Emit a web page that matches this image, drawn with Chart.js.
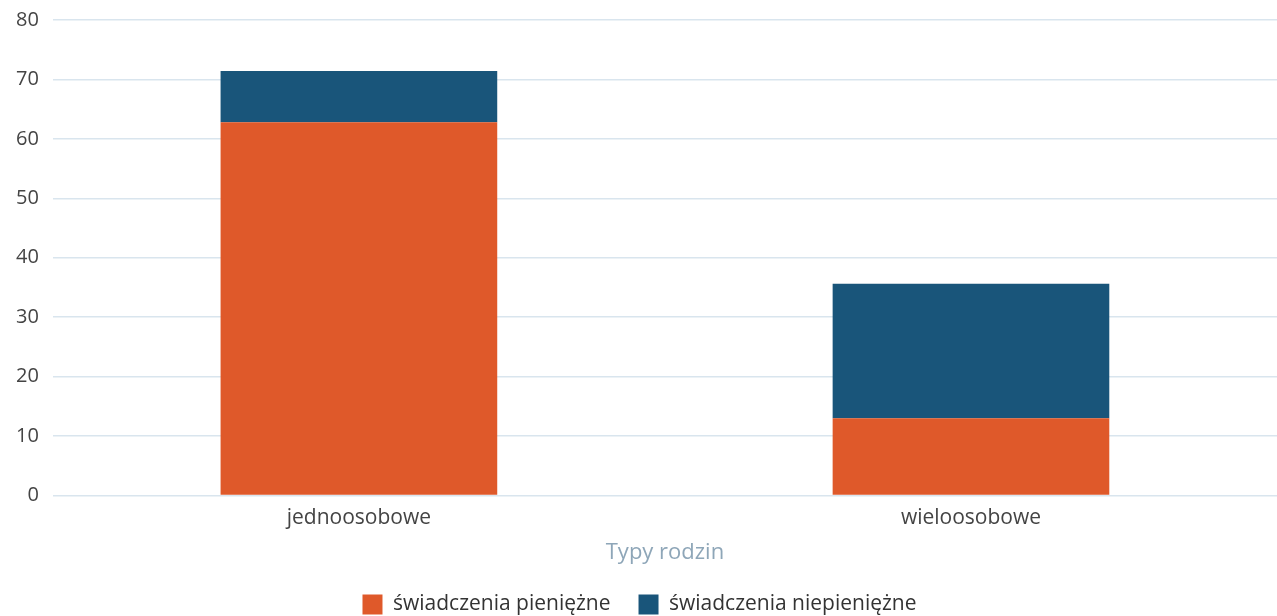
<!DOCTYPE html>
<html lang="pl">
<head>
    <meta charset="UTF-8">
    <title>Typy rodzin</title>
    <script src="https://cdn.jsdelivr.net/npm/chart.js@4.4.0/dist/chart.umd.min.js"></script>
    <style>
        html, body {
            margin: 0;
            padding: 0;
            background: #ffffff;
        }
        #wrap {
            width: 1277px;
            height: 616px;
        }
    </style>
</head>
<body>
    <div id="wrap"><canvas id="myChart"></canvas></div>

    <script>
        const categories = ['jednoosobowe', 'wieloosobowe'];
        const cashBenefits = [62.8, 13.0];
        const nonCashBenefits = [8.6, 22.6];
        const yTicks = [0, 10, 20, 30, 40, 50, 60, 70, 80];

        const ctx = document.getElementById('myChart').getContext('2d');
        const myChart = new Chart(ctx, {
            type: 'bar',
            data: {
                labels: categories,
                datasets: [
                    {
                        label: 'świadczenia pieniężne',
                        data: cashBenefits,
                        backgroundColor: '#df592a',
                        barPercentage: 0.452,
                        categoryPercentage: 1
                    },
                    {
                        label: 'świadczenia niepieniężne',
                        data: nonCashBenefits,
                        backgroundColor: '#19557a',
                        barPercentage: 0.452,
                        categoryPercentage: 1
                    }
                ]
            },
            options: {
                responsive: true,
                maintainAspectRatio: false,
                animation: false,
                layout: {
                    padding: { top: 0, left: 2, right: 0, bottom: 0 }
                },
                plugins: {
                    legend: {
                        position: 'bottom',
                        maxHeight: 50,
                        labels: {
                            boxWidth: 20,
                            boxHeight: 20,
                            padding: 28,
                            color: '#333333',
                            font: { family: 'Open Sans', size: 21 }
                        }
                    },
                    tooltip: { enabled: false }
                },
                scales: {
                    x: {
                        stacked: true,
                        grid: { display: false },
                        border: { display: false },
                        ticks: {
                            color: '#444444',
                            padding: 2,
                            font: { family: 'Open Sans', size: 21 }
                        },
                        title: {
                            display: true,
                            text: 'Typy rodzin',
                            color: '#8ea6b8',
                            padding: { top: 7, bottom: 0 },
                            font: { family: 'Open Sans', size: 22 }
                        }
                    },
                    y: {
                        stacked: true,
                        min: 0,
                        max: 80,
                        afterBuildTicks: axis => {
                            axis.ticks = yTicks.map(v => ({ value: v }));
                        },
                        grid: { color: '#d9e5ee', lineWidth: 1.5, drawTicks: false },
                        border: { display: false },
                        ticks: {
                            color: '#444444',
                            padding: 14,
                            font: { family: 'Open Sans', size: 20, lineHeight: 0.6 }
                        }
                    }
                }
            }
        });
    </script>
</body>
</html>
